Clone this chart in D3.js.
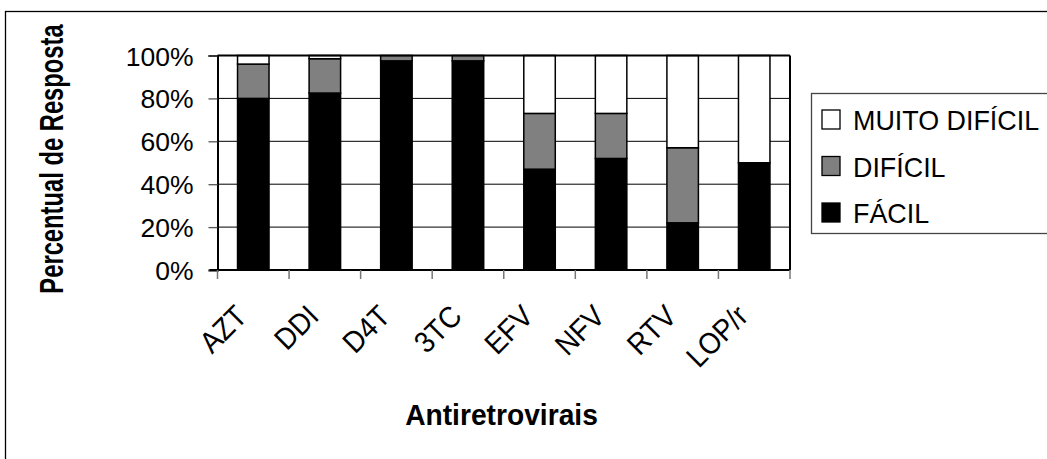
<!DOCTYPE html>
<html>
<head>
<meta charset="utf-8">
<script src="https://cdn.jsdelivr.net/npm/d3@7"></script>
<style>
  html, body { margin: 0; padding: 0; background: #fff; }
  svg { display: block; }
  text { font-family: "Liberation Sans", Arial, sans-serif; fill: #000; }
</style>
</head>
<body>
<svg id="chart" width="1047" height="459"></svg>
<script>
// ---- data ----
const categories = ["AZT", "DDI", "D4T", "3TC", "EFV", "NFV", "RTV", "LOP/r"];
const facil       = [80, 82.5, 97.5, 97.5, 47, 52, 22, 50];
const dificil     = [16, 16,   2.5,  2.5,  26, 21, 35, 0];
const muitoDificil= [4,  1.5,  0,    0,    27, 27, 43, 50];
const seriesNames = ["FÁCIL", "DIFÍCIL", "MUITO DIFÍCIL"];
const seriesColors = ["#000000", "#808080", "#ffffff"];
const yTicks = [0, 20, 40, 60, 80, 100];
const yTitle = "Percentual de Resposta";
const xTitle = "Antiretrovirais";

const svg = d3.select("#chart");

// outer frame (cropped at right and bottom)
svg.append("rect").attr("x", 5.5).attr("y", 11.5).attr("width", 1100).attr("height", 600)
  .attr("fill", "#fff").attr("stroke", "#000").attr("stroke-width", 1.3);

const plot = { left: 217.5, right: 790, top: 55.5, bottom: 270 };

const x = d3.scaleBand().domain(categories).range([plot.left, plot.right]).paddingInner(0.56).paddingOuter(0.28);
const xb = d3.scaleBand().domain(categories).range([plot.left, plot.right]);
const y = d3.scaleLinear().domain([0, 100]).range([plot.bottom, plot.top]);

// gridlines
svg.append("g").selectAll("line").data(yTicks.filter(d => d > 0 && d < 100)).join("line")
  .attr("x1", plot.left).attr("x2", plot.right)
  .attr("y1", d => y(d)).attr("y2", d => y(d))
  .attr("stroke", "#000").attr("stroke-width", 1);

// stacked bars
const rows = categories.map((c, i) => ({ cat: c, "FÁCIL": facil[i], "DIFÍCIL": dificil[i], "MUITO DIFÍCIL": muitoDificil[i] }));
const stack = d3.stack().keys(seriesNames)(rows);
const color = d3.scaleOrdinal().domain(seriesNames).range(seriesColors);

svg.append("g").selectAll("g").data(stack).join("g")
  .attr("fill", d => color(d.key))
  .selectAll("rect").data(d => d.filter(s => s[1] - s[0] > 0)).join("rect")
  .attr("x", d => x(d.data.cat))
  .attr("width", x.bandwidth())
  .attr("y", d => y(d[1]))
  .attr("height", d => y(d[0]) - y(d[1]))
  .attr("stroke", "#000").attr("stroke-width", 1.5);

// plot border top/right
svg.append("line").attr("x1", plot.left).attr("x2", plot.right).attr("y1", plot.top).attr("y2", plot.top)
  .attr("stroke", "#000").attr("stroke-width", 2);
svg.append("line").attr("x1", plot.right).attr("x2", plot.right).attr("y1", plot.top).attr("y2", plot.bottom)
  .attr("stroke", "#000").attr("stroke-width", 2);

// y axis
const yAxis = svg.append("g").attr("transform", `translate(${plot.left},0)`)
  .call(d3.axisLeft(y).tickValues(yTicks).tickFormat(d => d + "%").tickSize(9).tickPadding(15));
yAxis.select(".domain").attr("stroke", "#000").attr("stroke-width", 2);
yAxis.selectAll(".tick line").attr("stroke", "#555").attr("stroke-width", 1.3);
yAxis.selectAll(".tick text").attr("font-size", 26.5).attr("font-family", "Liberation Sans, Arial, sans-serif")
  .attr("fill", "#000").attr("dy", "0.36em");

// x axis with ticks at category boundaries
const xAxisG = svg.append("g").attr("transform", `translate(0,${plot.bottom})`);
xAxisG.append("line").attr("x1", plot.left - 8).attr("x2", plot.right).attr("stroke", "#000").attr("stroke-width", 2);
const boundaries = categories.map(c => xb(c)).concat([plot.right]);
xAxisG.selectAll("line.tk").data(boundaries).join("line").attr("class", "tk")
  .attr("x1", d => d).attr("x2", d => d).attr("y1", 0).attr("y2", 9)
  .attr("stroke", "#777").attr("stroke-width", 1.5);

svg.append("g").selectAll("text").data(categories).join("text")
  .attr("transform", d => `translate(${xb(d) + xb.bandwidth() / 2 - 4.5},${plot.bottom + 48}) rotate(-45) scale(0.92,1)`)
  .attr("text-anchor", "end")
  .attr("font-size", 30)
  .text(d => d);

// axis titles
svg.append("text")
  .attr("transform", `translate(63,${159}) rotate(-90) scale(0.72,1)`)
  .attr("text-anchor", "middle")
  .attr("font-size", 33).attr("font-weight", "bold")
  .text(yTitle);

svg.append("text")
  .attr("transform", `translate(501.5,425) scale(0.94,1)`)
  .attr("text-anchor", "middle")
  .attr("font-size", 30).attr("font-weight", "bold")
  .text(xTitle);

// legend
const lg = svg.append("g");
lg.append("rect").attr("x", 811.5).attr("y", 93.5).attr("width", 300).attr("height", 140)
  .attr("fill", "#fff").attr("stroke", "#444").attr("stroke-width", 1.3);
const legendOrder = ["MUITO DIFÍCIL", "DIFÍCIL", "FÁCIL"];
const li = lg.selectAll("g").data(legendOrder).join("g")
  .attr("transform", (d, i) => `translate(822,${110 + i * 46.5})`);
li.append("rect").attr("width", 18).attr("height", 19)
  .attr("fill", d => color(d)).attr("stroke", "#000").attr("stroke-width", 1.3);
li.append("text").attr("transform", "translate(31,20) scale(0.96,1)").attr("font-size", 28).text(d => d);
</script>
</body>
</html>
